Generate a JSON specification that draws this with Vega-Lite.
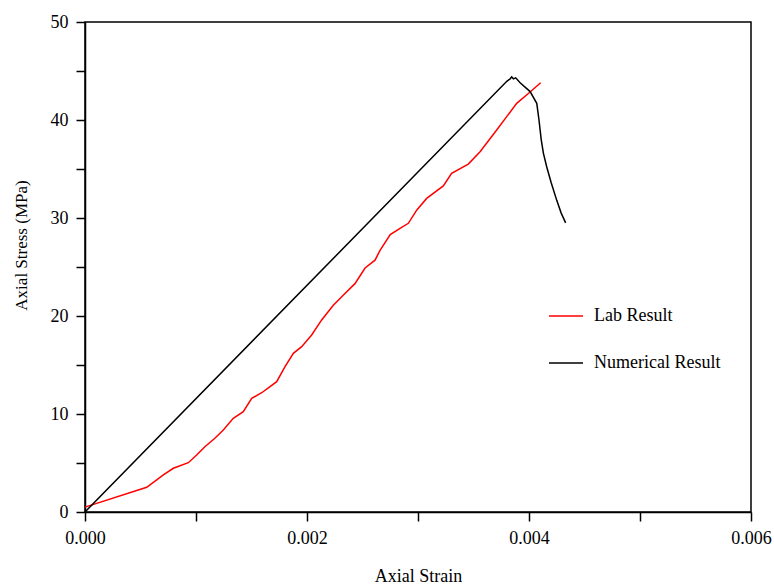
{
  "$schema": "https://vega.github.io/schema/vega-lite/v6.json",
  "width": 666,
  "height": 490,
  "autosize": {"type": "none"},
  "padding": {"left": 85, "top": 22, "right": 23, "bottom": 73},
  "background": "white",
  "config": {
    "font": "Liberation Serif",
    "view": {"stroke": "black", "strokeWidth": 1.5},
    "axis": {
      "grid": false,
      "ticks": true,
      "tickSize": 9,
      "domainColor": "black",
      "domainWidth": 1.5,
      "tickColor": "black",
      "tickWidth": 1.5,
      "labelFont": "Liberation Serif",
      "labelFontSize": 18,
      "labelColor": "black",
      "labelFlush": false,
      "labelOverlap": false,
      "titleFont": "Liberation Serif",
      "titleFontSize": 18,
      "titleFontWeight": "normal",
      "titleColor": "black"
    }
  },
  "data": {
    "values": [
      {"strain": 0.0, "stress": 0.5, "series": "Lab Result"},
      {"strain": 0.000556, "stress": 2.52, "series": "Lab Result"},
      {"strain": 0.000706, "stress": 3.78, "series": "Lab Result"},
      {"strain": 0.000796, "stress": 4.46, "series": "Lab Result"},
      {"strain": 0.000931, "stress": 5.03, "series": "Lab Result"},
      {"strain": 0.001006, "stress": 5.82, "series": "Lab Result"},
      {"strain": 0.00108, "stress": 6.66, "series": "Lab Result"},
      {"strain": 0.00117, "stress": 7.52, "series": "Lab Result"},
      {"strain": 0.001246, "stress": 8.37, "series": "Lab Result"},
      {"strain": 0.001336, "stress": 9.56, "series": "Lab Result"},
      {"strain": 0.001426, "stress": 10.23, "series": "Lab Result"},
      {"strain": 0.001502, "stress": 11.6, "series": "Lab Result"},
      {"strain": 0.001592, "stress": 12.17, "series": "Lab Result"},
      {"strain": 0.001667, "stress": 12.8, "series": "Lab Result"},
      {"strain": 0.001727, "stress": 13.3, "series": "Lab Result"},
      {"strain": 0.001802, "stress": 14.83, "series": "Lab Result"},
      {"strain": 0.001877, "stress": 16.19, "series": "Lab Result"},
      {"strain": 0.001952, "stress": 16.87, "series": "Lab Result"},
      {"strain": 0.002042, "stress": 18.06, "series": "Lab Result"},
      {"strain": 0.002132, "stress": 19.6, "series": "Lab Result"},
      {"strain": 0.002237, "stress": 21.1, "series": "Lab Result"},
      {"strain": 0.002342, "stress": 22.3, "series": "Lab Result"},
      {"strain": 0.002432, "stress": 23.3, "series": "Lab Result"},
      {"strain": 0.002523, "stress": 24.9, "series": "Lab Result"},
      {"strain": 0.002613, "stress": 25.7, "series": "Lab Result"},
      {"strain": 0.002658, "stress": 26.7, "series": "Lab Result"},
      {"strain": 0.00275, "stress": 28.3, "series": "Lab Result"},
      {"strain": 0.002838, "stress": 28.95, "series": "Lab Result"},
      {"strain": 0.002913, "stress": 29.46, "series": "Lab Result"},
      {"strain": 0.002988, "stress": 30.8, "series": "Lab Result"},
      {"strain": 0.003078, "stress": 32.0, "series": "Lab Result"},
      {"strain": 0.003228, "stress": 33.27, "series": "Lab Result"},
      {"strain": 0.003303, "stress": 34.56, "series": "Lab Result"},
      {"strain": 0.003453, "stress": 35.5, "series": "Lab Result"},
      {"strain": 0.003559, "stress": 36.77, "series": "Lab Result"},
      {"strain": 0.003709, "stress": 38.98, "series": "Lab Result"},
      {"strain": 0.003799, "stress": 40.34, "series": "Lab Result"},
      {"strain": 0.003889, "stress": 41.7, "series": "Lab Result"},
      {"strain": 0.003994, "stress": 42.7, "series": "Lab Result"},
      {"strain": 0.004105, "stress": 43.8, "series": "Lab Result"},
      {"strain": 0.0, "stress": 0.0, "series": "Numerical Result"},
      {"strain": 0.0038, "stress": 43.95, "series": "Numerical Result"},
      {"strain": 0.00383, "stress": 44.2, "series": "Numerical Result"},
      {"strain": 0.003844, "stress": 44.4, "series": "Numerical Result"},
      {"strain": 0.00386, "stress": 44.2, "series": "Numerical Result"},
      {"strain": 0.00388, "stress": 44.3, "series": "Numerical Result"},
      {"strain": 0.00392, "stress": 43.8, "series": "Numerical Result"},
      {"strain": 0.00401, "stress": 42.9, "series": "Numerical Result"},
      {"strain": 0.00407, "stress": 41.7, "series": "Numerical Result"},
      {"strain": 0.00409, "stress": 40.0, "series": "Numerical Result"},
      {"strain": 0.00411, "stress": 38.0, "series": "Numerical Result"},
      {"strain": 0.00413, "stress": 36.6, "series": "Numerical Result"},
      {"strain": 0.00416, "stress": 35.2, "series": "Numerical Result"},
      {"strain": 0.0042, "stress": 33.6, "series": "Numerical Result"},
      {"strain": 0.00425, "stress": 31.8, "series": "Numerical Result"},
      {"strain": 0.00429, "stress": 30.5, "series": "Numerical Result"},
      {"strain": 0.00433, "stress": 29.5, "series": "Numerical Result"}
    ]
  },
  "mark": {"type": "line", "strokeWidth": 1.5},
  "encoding": {
    "x": {
      "field": "strain",
      "type": "quantitative",
      "scale": {"domain": [0, 0.006], "nice": false, "zero": false},
      "axis": {
        "title": "Axial Strain",
        "values": [0, 0.001, 0.002, 0.003, 0.004, 0.005, 0.006],
        "format": ".3f",
        "labelExpr": "round(datum.value * 1000) % 2 == 0 ? datum.label : ''",
        "labelPadding": 8,
        "titlePadding": 20,
        "encode": {
          "ticks": {"update": {"y2": {"signal": "round(datum.value * 1000) % 2 == 0 ? 9 : 5"}}}
        }
      }
    },
    "y": {
      "field": "stress",
      "type": "quantitative",
      "scale": {"domain": [0, 50], "nice": false},
      "axis": {
        "title": "Axial Stress (MPa)",
        "titleFontSize": 17,
        "titleY": 223,
        "values": [0, 5, 10, 15, 20, 25, 30, 35, 40, 45, 50],
        "labelExpr": "datum.value % 10 == 0 ? datum.label : ''",
        "labelPadding": 8,
        "titlePadding": 20,
        "encode": {
          "ticks": {"update": {"x2": {"signal": "datum.value % 10 == 0 ? -9 : -5"}}}
        }
      }
    },
    "color": {
      "field": "series",
      "type": "nominal",
      "scale": {"domain": ["Lab Result", "Numerical Result"], "range": ["#ff0000", "#000000"]},
      "legend": {
        "title": null,
        "orient": "none",
        "legendX": 463,
        "legendY": 276,
        "padding": 0,
        "symbolType": "stroke",
        "symbolSize": 1156,
        "symbolStrokeWidth": 1.5,
        "rowPadding": 20,
        "labelFont": "Liberation Serif",
        "labelFontSize": 18,
        "labelColor": "black",
        "labelOffset": 10,
        "labelLimit": 300
      }
    }
  }
}
